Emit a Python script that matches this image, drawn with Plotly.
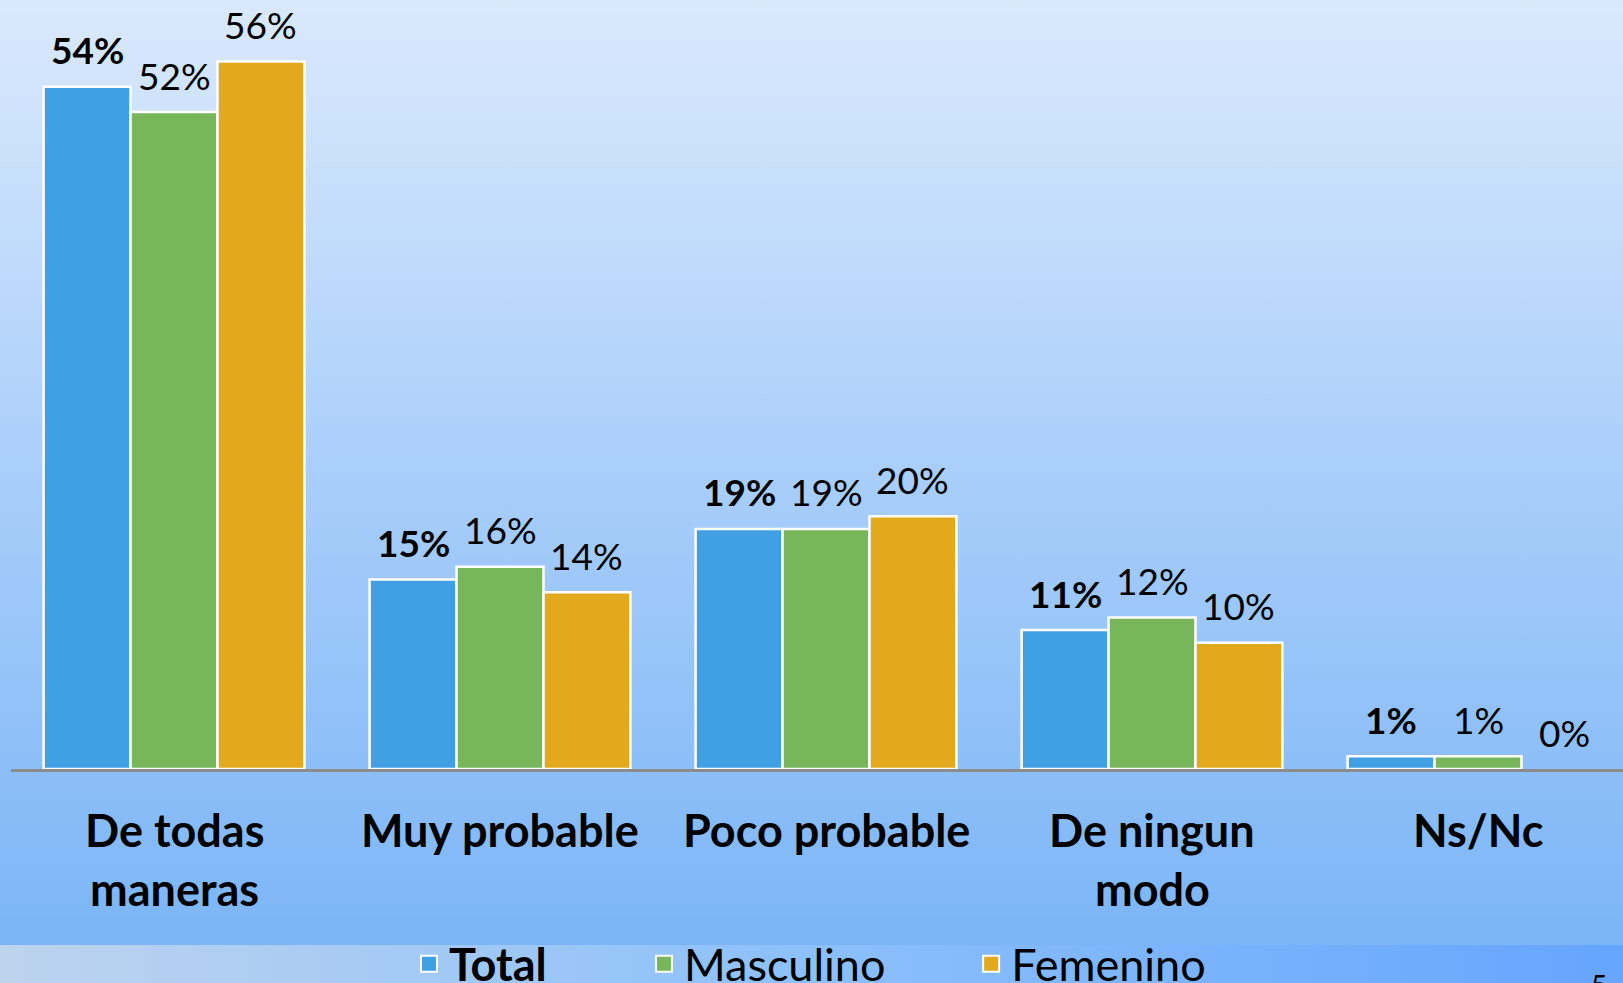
import base64
import plotly.graph_objects as go

# Datos de la encuesta
categorias = ["De todas maneras", "Muy probable", "Poco probable", "De ningun modo", "Ns/Nc"]
lineas_cat = [["De todas", "maneras"], ["Muy probable"], ["Poco probable"], ["De ningun", "modo"], ["Ns/Nc"]]
total = [54, 15, 19, 11, 1]
masculino = [52, 16, 19, 12, 1]
femenino = [56, 14, 20, 10, 0]

W, H = 1623, 983
L, R, T, B = 11, 0, 11, 214
pw, ph = W - L - R, H - T - B
x_rango = [-0.5, 4.5 - 18 / 326]
bargap = 0.2

# fondo degradado (svg inline)
svg = f"""<svg xmlns='http://www.w3.org/2000/svg' width='{W}' height='{H}' viewBox='0 0 {W} {H}' preserveAspectRatio='none'>
<defs>
<linearGradient id='v' x1='0' y1='0' x2='0' y2='1'>
<stop offset='0' stop-color='#DAE9FC'/><stop offset='0.5' stop-color='#A9CEFA'/><stop offset='1' stop-color='#7BB5F6'/>
</linearGradient>
<linearGradient id='h' x1='0' y1='0' x2='1' y2='0'>
<stop offset='0' stop-color='#BDD3EE'/><stop offset='0.5' stop-color='#8CC0FA'/><stop offset='1' stop-color='#66A5FE'/>
</linearGradient>
</defs>
<rect x='0' y='0' width='{W}' height='945' fill='url(#v)'/>
<rect x='0' y='945' width='{W}' height='{H - 945}' fill='url(#h)'/>
</svg>"""
fondo = "data:image/svg+xml;base64," + base64.b64encode(svg.encode()).decode()

fig = go.Figure()

series = [("Total", total, "#419FE3", True, 8),
          ("Masculino", masculino, "#77B65A", False, 7),
          ("Femenino", femenino, "#E2A91D", False, 0)]

# ancho de cada barra en px (para colocar las etiquetas)
cat_px = pw / (x_rango[1] - x_rango[0])
bar_px = cat_px * (1 - bargap) / len(series)

for k, (nombre, valores, color, negrita, relleno) in enumerate(series):
    fig.add_trace(go.Bar(
        x=categorias,
        y=valores,
        name=nombre,
        marker_color=color,
        marker_line=dict(color="white", width=[2.5 if v > 0 else 0 for v in valores]),
        showlegend=False,
        cliponaxis=False,
    ))
    # entrada de leyenda con cuadrado mas grande
    fig.add_trace(go.Scatter(
        x=[None], y=[None], mode="markers",
        name=("<b>" + nombre + "</b>" if negrita else nombre) + "\u00a0" * relleno,
        marker=dict(symbol="square", size=24, color=color, line=dict(color="white", width=2)),
    ))
    # etiquetas de valor
    for cat, v in zip(categorias, valores):
        fig.add_annotation(
            x=cat, y=v, xref="x", yref="y",
            text=f"<b>{v}%</b>" if negrita else f"{v}%",
            showarrow=False, yanchor="middle",
            xshift=(k - 1) * bar_px, yshift=37,
            font=dict(size=37, color="black", family="Lato"),
        )

# etiquetas de categoria
for cat, lineas in zip(categorias, lineas_cat):
    for i, txt in enumerate(lineas):
        fig.add_annotation(
            x=cat, y=(769 - 830 - i * 59) / ph, xref="x", yref="paper",
            text="<b>" + txt + "</b>", showarrow=False, yanchor="middle",
            font=dict(size=45, color="black", family="Lato"),
        )

# numero de pagina
fig.add_annotation(x=1 - 24 / pw, y=(769 - 985) / ph, xref="paper", yref="paper",
                   text="5", showarrow=False, xanchor="center", yanchor="middle",
                   font=dict(size=28, color="black", family="Lato"))

fig.update_xaxes(
    showline=True,
    linewidth=3,
    linecolor="#8C8C8C",
    showticklabels=False,
    ticks="",
    range=x_rango,
    fixedrange=True,
)

fig.update_yaxes(
    range=[0, 60],
    visible=False,
    showgrid=False,
    zeroline=False,
)

fig.update_layout(
    width=W,
    height=H,
    margin=dict(l=L, r=R, t=T, b=B, autoexpand=False),
    barmode="group",
    bargap=bargap,
    bargroupgap=0,
    paper_bgcolor="#A9CEFA",
    plot_bgcolor="rgba(0,0,0,0)",
    font=dict(family="Lato", color="black"),
    showlegend=True,
    legend=dict(
        orientation="h",
        x=(409 - L) / pw,
        xanchor="left",
        y=(769 - 964) / ph,
        yanchor="middle",
        font=dict(size=45, family="Lato", color="black"),
        bgcolor="rgba(0,0,0,0)",
        itemclick=False,
        itemsizing="trace",
        tracegroupgap=0,
    ),
    images=[dict(
        source=fondo,
        xref="paper", yref="paper",
        x=-L / pw, y=1 + T / ph,
        sizex=W / pw, sizey=H / ph,
        xanchor="left", yanchor="top",
        sizing="stretch",
        layer="below",
    )],
)

fig.write_html("out.html", config={"displayModeBar": False},
               post_script="document.body.style.margin='0';document.body.style.overflow='hidden';")
